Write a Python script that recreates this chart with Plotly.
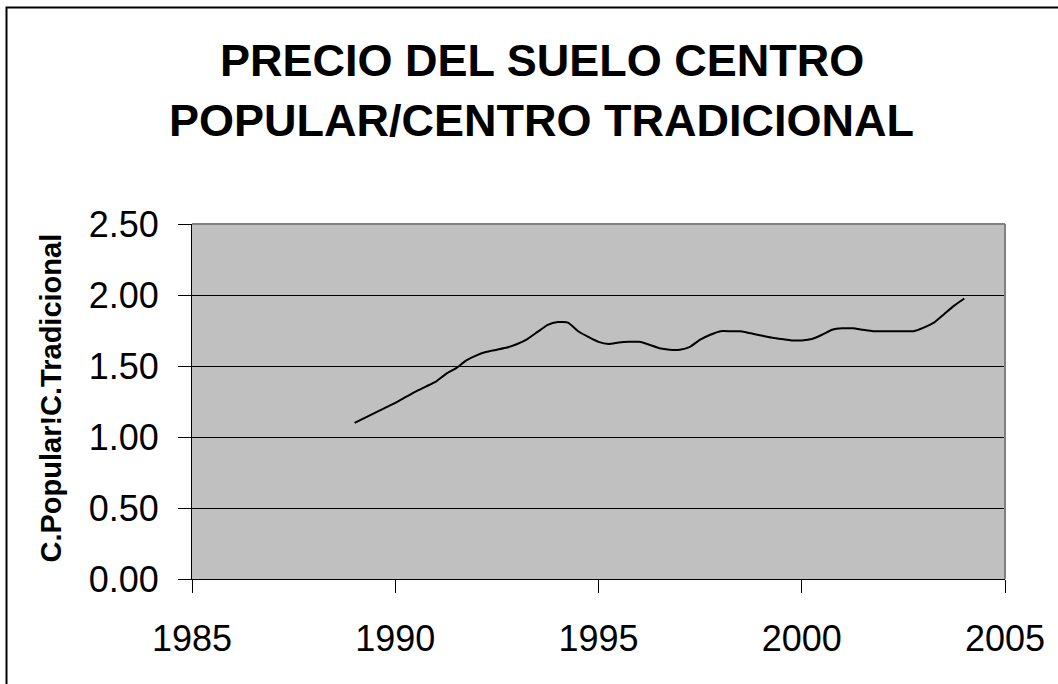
import plotly.graph_objects as go

# ---- data ----
years = [1989.00, 1989.25, 1989.50, 1989.75, 1990.00, 1990.25, 1990.50, 1990.75,
         1991.00, 1991.25, 1991.50, 1991.75, 1992.00, 1992.25, 1992.50, 1992.75,
         1993.00, 1993.25, 1993.50, 1993.75, 1994.00, 1994.25, 1994.50, 1994.75,
         1995.00, 1995.25, 1995.50, 1995.75, 1996.00, 1996.25, 1996.50, 1996.75,
         1997.00, 1997.25, 1997.50, 1997.75, 1998.00, 1998.25, 1998.50, 1998.75,
         1999.00, 1999.25, 1999.50, 1999.75, 2000.00, 2000.25, 2000.50, 2000.75,
         2001.00, 2001.25, 2001.50, 2001.75, 2002.00, 2002.25, 2002.50, 2002.75,
         2003.00, 2003.25, 2003.50, 2003.75, 2004.00]
ratio = [1.10, 1.135, 1.17, 1.205, 1.24, 1.28, 1.32, 1.355,
         1.39, 1.445, 1.485, 1.54, 1.575, 1.60, 1.615, 1.63,
         1.655, 1.69, 1.74, 1.79, 1.81, 1.805, 1.745, 1.705,
         1.67, 1.655, 1.665, 1.67, 1.67, 1.65, 1.625, 1.615,
         1.615, 1.635, 1.685, 1.72, 1.745, 1.745, 1.745, 1.73,
         1.715, 1.70, 1.69, 1.68, 1.68, 1.69, 1.72, 1.755,
         1.765, 1.765, 1.755, 1.745, 1.745, 1.745, 1.745, 1.745,
         1.77, 1.805, 1.865, 1.925, 1.975]

x_ticks = [1985, 1990, 1995, 2000, 2005]
y_ticks = [0.0, 0.5, 1.0, 1.5, 2.0, 2.5]
title_lines = ["PRECIO DEL SUELO CENTRO", "POPULAR/CENTRO TRADICIONAL"]
y_title = "C.Popular!C.Tradicional"

FONT = "Arial, Liberation Sans, sans-serif"
W, H = 1058, 684
L, R, T, B = 192, 53, 224, 105
pw, ph = W - L - R, H - T - B

def px2paper_x(px):
    return (px - L) / pw

def px2paper_y(py):
    return (H - B - py) / ph

fig = go.Figure()
fig.add_trace(go.Scatter(
    x=years, y=ratio, mode="lines",
    line=dict(color="black", width=2, shape="spline", smoothing=0.5),
    showlegend=False, hoverinfo="skip"))

fig.update_layout(
    width=W, height=H, autosize=False,
    margin=dict(l=L, r=R, t=T, b=B, pad=0),
    paper_bgcolor="white", plot_bgcolor="#C0C0C0",
    font=dict(family=FONT, color="black"),
    xaxis=dict(range=[1985, 2005], tickvals=x_ticks, ticktext=[str(v) for v in x_ticks],
               showgrid=False, zeroline=False, showline=True, linecolor="black", linewidth=1,
               ticks="outside", ticklen=13, tickcolor="black", tickwidth=1,
               tickfont=dict(size=36, family=FONT, color="black"), ticklabelstandoff=15),
    yaxis=dict(range=[0, 2.5], tickvals=y_ticks, tickformat=".2f",
               showgrid=True, gridcolor="black", gridwidth=1, zeroline=False,
               showline=True, linecolor="black", linewidth=1,
               ticks="outside", ticklen=13, tickcolor="black", tickwidth=1,
               tickfont=dict(size=36, family=FONT, color="black"), ticklabelstandoff=12),
)

# plot-area border (top/right gray)
fig.add_shape(type="line", xref="paper", yref="paper", x0=0, x1=1, y0=1, y1=1,
              line=dict(color="#808080", width=2), layer="above")
fig.add_shape(type="line", xref="paper", yref="paper", x0=1, x1=1, y0=0, y1=1,
              line=dict(color="#808080", width=2), layer="above")

# outer chart border
fig.add_shape(type="rect", xref="paper", yref="paper",
              x0=px2paper_x(6.5), x1=px2paper_x(W + 20),
              y0=px2paper_y(H + 20), y1=px2paper_y(7.5),
              line=dict(color="black", width=2), fillcolor="rgba(0,0,0,0)", layer="below")

# title lines
for txt, cy in zip(title_lines, [61, 120.5]):
    fig.add_annotation(text="<b>%s</b>" % txt, xref="paper", yref="paper",
                       x=px2paper_x(541.5), y=px2paper_y(cy), xanchor="center", yanchor="middle",
                       showarrow=False, font=dict(size=45, family=FONT, color="black"))

# y-axis title
fig.add_annotation(text="<b>%s</b>" % y_title, xref="paper", yref="paper",
                   x=px2paper_x(50), y=px2paper_y(398.5), xanchor="center", yanchor="middle",
                   textangle=-90, showarrow=False, font=dict(size=29, family=FONT, color="black"))

fig.write_html("out.html", config={"displayModeBar": False},
               post_script="document.body.style.margin='0';")
